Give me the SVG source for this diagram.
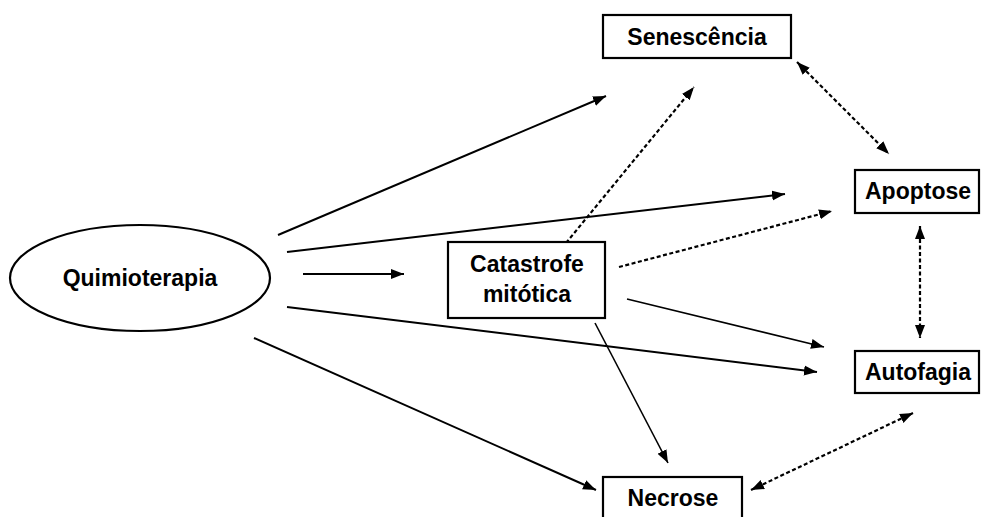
<svg xmlns="http://www.w3.org/2000/svg" width="982" height="517" viewBox="0 0 982 517">
<style>
.box{fill:#fff;stroke:#000;stroke-width:2.2}
.t{font-family:"Liberation Sans",Arial,sans-serif;font-weight:bold;font-size:23px;text-anchor:middle;fill:#000}
.s{fill:none;stroke:#000;stroke-width:2}
.th{fill:none;stroke:#000;stroke-width:1.6}
.d{fill:none;stroke:#000;stroke-width:2.2;stroke-dasharray:4 2.5}
</style>
<defs>
<marker id="ah" markerUnits="userSpaceOnUse" markerWidth="14" markerHeight="12" refX="13" refY="5" orient="auto-start-reverse" viewBox="0 0 14 10">
<path d="M0,0 L13,5 L0,10 Z" fill="#000"/>
</marker>
</defs>
<g id="connectors">
<line class="s" x1="278" y1="235" x2="606" y2="96" marker-end="url(#ah)"/>
<line class="s" x1="287" y1="252" x2="785" y2="194" marker-end="url(#ah)"/>
<line class="s" x1="303" y1="274" x2="404" y2="274" marker-end="url(#ah)"/>
<line class="s" x1="287" y1="307" x2="817" y2="372" marker-end="url(#ah)"/>
<line class="s" x1="254" y1="338" x2="596" y2="490" marker-end="url(#ah)"/>
<line class="d" x1="566" y1="243" x2="694" y2="87" marker-end="url(#ah)"/>
<line class="d" x1="619" y1="267" x2="832" y2="211" marker-end="url(#ah)"/>
<line class="th" x1="627" y1="299" x2="824" y2="347" marker-end="url(#ah)"/>
<line class="th" x1="595" y1="323" x2="668" y2="463" marker-end="url(#ah)"/>
<line class="d" x1="797" y1="62" x2="889" y2="154" marker-start="url(#ah)" marker-end="url(#ah)"/>
<line class="d" x1="920" y1="226" x2="920" y2="338" marker-start="url(#ah)" marker-end="url(#ah)"/>
<line class="d" x1="751" y1="490" x2="913" y2="413" marker-start="url(#ah)" marker-end="url(#ah)"/>
</g>
<g id="quimioterapia">
<ellipse class="box" cx="140" cy="278" rx="130" ry="53"/>
<text class="t" x="140" y="286">Quimioterapia</text>
</g>
<g id="catastrofe">
<rect class="box" x="448" y="242" width="157" height="76"/>
<text class="t" x="527" y="272">Catastrofe</text>
<text class="t" x="527" y="302">mitótica</text>
</g>
<g id="senescencia">
<rect class="box" x="603" y="15" width="188" height="43"/>
<text class="t" x="697" y="45">Senescência</text>
</g>
<g id="apoptose">
<rect class="box" x="855" y="170" width="124" height="43"/>
<text class="t" x="918" y="199">Apoptose</text>
</g>
<g id="autofagia">
<rect class="box" x="855" y="351" width="124" height="42"/>
<text class="t" x="918" y="380">Autofagia</text>
</g>
<g id="necrose">
<rect class="box" x="603" y="477" width="139" height="45"/>
<text class="t" x="673" y="506">Necrose</text>
</g>
</svg>
